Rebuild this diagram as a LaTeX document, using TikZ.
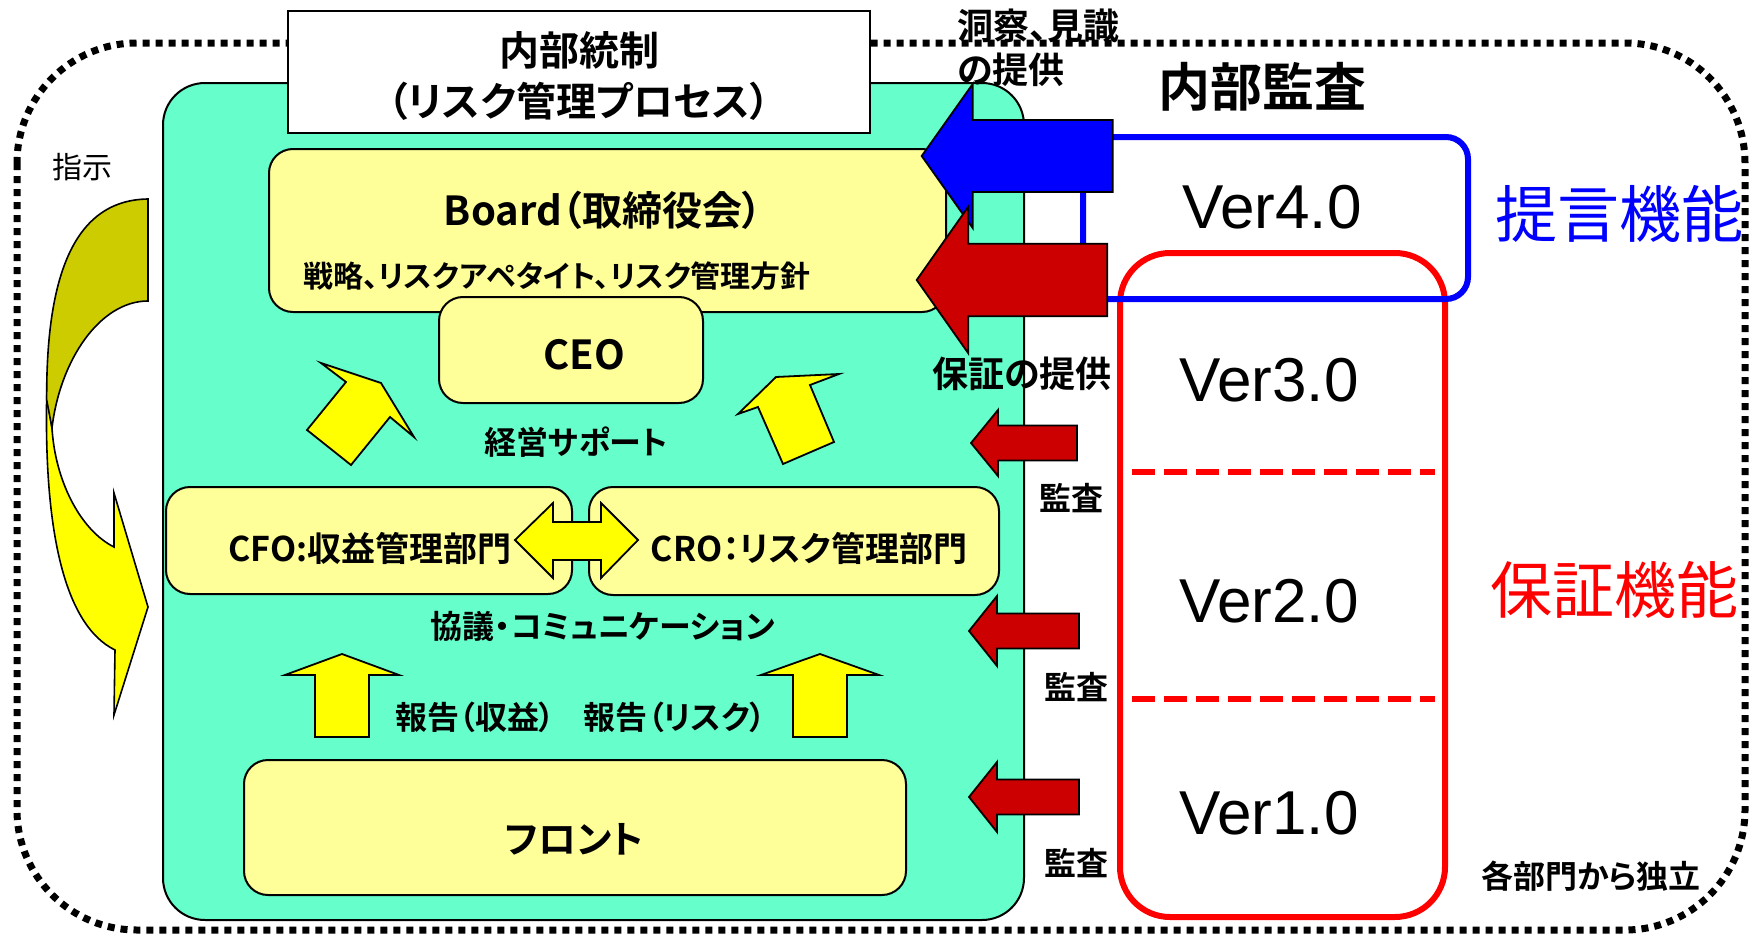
\documentclass[tikz,border=0pt]{standalone}
\usepackage{fontspec}
\setmainfont{Noto Sans CJK JP}[BoldFont={Noto Sans CJK JP Bold},RawFeature=+palt]
\newfontfamily\verfont{Liberation Sans}
\usetikzlibrary{calc}

\definecolor{mintbg}{HTML}{66FFCC}
\definecolor{paleyel}{HTML}{FFFF99}
\definecolor{arwyel}{HTML}{FFFF00}
\definecolor{olivebk}{HTML}{CCCC00}
\definecolor{auditred}{HTML}{CC0000}
\definecolor{frmred}{HTML}{FF0000}
\definecolor{frmblue}{HTML}{0000FF}

\tikzset{
  box/.style={draw=black, line width=1pt, fill=paleyel, rounded corners=12pt},
  yelarrow/.style={draw=black, line width=0.9pt, fill=arwyel, line join=miter},
  redarrow/.style={draw=black, line width=0.9pt, fill=auditred},
  lbl/.style={inner sep=0pt, font=\bfseries\fontsize{#1pt}{#1pt}\selectfont},
  ver/.style={inner sep=0pt, font=\verfont\fontsize{31pt}{31pt}\selectfont}
}

% left pointing block arrow: tip x, head x, tail x, mid y, shaft half, head half
\newcommand{\leftblock}[7][]{%
  \draw[#1] (#2,#5) -- (#3,#5-#7) -- (#3,#5-#6) -- (#4,#5-#6)
    -- (#4,#5+#6) -- (#3,#5+#6) -- (#3,#5+#7) -- cycle;}
% up pointing block arrow: mid x, tip y, head y, tail y, shaft half, head half
\newcommand{\upblock}[6]{%
  \draw[yelarrow] (#1,#2) -- (#1+#6,#3) -- (#1+#5,#3) -- (#1+#5,#4)
    -- (#1-#5,#4) -- (#1-#5,#3) -- (#1-#6,#3) -- cycle;}

\begin{document}
\begin{tikzpicture}[x=0.5pt,y=-0.5pt]
\useasboundingbox (0,0) rectangle (1758,937);

% outer dotted frame
\draw[line width=3.5pt, dash pattern=on 3.5pt off 3pt, rounded corners=60pt]
  (17,43) rectangle (1745,930);

% internal control area
\draw[fill=mintbg, line width=1pt, rounded corners=21pt] (163,83) rectangle (1024,920);
\draw[fill=white, line width=1pt] (288,11) rectangle (870,133);
\node[lbl=20] (ttl1) at (579,50) {内部統制};
\node[lbl=20] (ttl2) at (579,101) {（リスク管理プロセス）};

\draw[box] (269,149) rectangle (946,312);
\draw[box] (439,297) rectangle (703,403);
\draw[box] (166,487) rectangle (572,594);
\draw[box] (589,487) rectangle (999,595);
\draw[box] (244,760) rectangle (906,895);

\node[lbl=20] (board) at (603,210) {Board（取締役会）};
\node[lbl=15] (policy) at (557,276) {戦略、リスクアペタイト、リスク管理方針};
\node[lbl=20] (ceo) at (584,355) {CEO};
\node[lbl=17] (cfo) at (370,548) {CFO:収益管理部門};
\node[lbl=17] (cro) at (809,548) {CRO：リスク管理部門};
\node[lbl=19] (front) at (574,839) {フロント};

% support arrows
\draw[yelarrow] (321,363) -- (381,383) -- (414,437) -- (390,417) -- (351,465)
  -- (307,430) -- (346,382) -- cycle;
\draw[yelarrow] (776,377) -- (839,374) -- (810,385) -- (834,442) -- (783,464)
  -- (758,407) -- (738,414) -- cycle;
\node[lbl=16] (support) at (576,442) {経営サポート};

\draw[yelarrow] (515,540) -- (553,503) -- (553,522) -- (601,522) -- (601,503)
  -- (638,540) -- (601,578) -- (601,560) -- (553,560) -- (553,578) -- cycle;
\node[lbl=16] (talk) at (603,626) {協議・コミュニケーション};

\upblock{342}{654}{675}{737}{27}{57}
\upblock{820}{654}{675}{737}{27}{59}
\node[lbl=16] (rep1) at (475,717) {報告（収益）};
\node[lbl=16] (rep2) at (675,717) {報告（リスク）};

% instruction arrow
\draw[draw=black, line width=0.8pt, fill=arwyel]
  (46.7,395) .. controls (44,530) and (64,625) .. (115,650) -- (114,715)
  -- (148,607) -- (114,493) -- (114,547) .. controls (80,530) and (55,480) .. (52,428) -- cycle;
\draw[draw=black, line width=0.8pt, fill=olivebk]
  (148,199) .. controls (72,200) and (46,280) .. (46.7,400) -- (52,428)
  .. controls (60,360) and (100,301) .. (148,301) -- cycle;
\node[inner sep=0pt, font=\fontsize{15pt}{15pt}\selectfont] (order) at (83,167) {指示};

% internal audit
\draw[frmred, line width=3pt, rounded corners=25pt] (1120,253) rectangle (1445,917);
\draw[frmred, line width=3.25pt, dash pattern=on 11.5pt off 4.5pt] (1132,472) -- (1435,472);
\draw[frmred, line width=3.25pt, dash pattern=on 11.5pt off 4.5pt] (1132,699) -- (1435,699);
\draw[frmblue, line width=3pt, rounded corners=11pt] (1083,137) rectangle (1468,299);

\leftblock[draw=black, line width=0.9pt, fill=frmblue]{921.7}{972.7}{1112.7}{156}{36}{72}
\leftblock[redarrow]{916.7}{968.3}{1107.3}{280}{36.3}{73.3}
\leftblock[redarrow]{971}{998}{1077}{443}{17.5}{33}
\leftblock[redarrow]{969}{997}{1079}{631}{17.5}{35}
\leftblock[redarrow]{969}{997}{1079}{797}{17.5}{35}

\node[lbl=26] (audit) at (1262,87) {内部監査};
\node[lbl=18, anchor=west] (insight) at (957,26) {洞察、見識};
\node[lbl=18, anchor=west] (insight2) at (957,70) {の提供};
\node[lbl=18] (assure) at (1022,374) {保証の提供};
\node[lbl=16] (aud1) at (1071,498) {監査};
\node[lbl=16] (aud2) at (1076,687) {監査};
\node[lbl=16] (aud3) at (1076,863) {監査};

\node[ver] (v4) at (1272,207) {Ver4.0};
\node[ver] (v3) at (1269,380) {Ver3.0};
\node[ver] (v2) at (1269,601) {Ver2.0};
\node[ver] (v1) at (1269,813) {Ver1.0};

\node[inner sep=0pt, text=frmblue, font=\fontsize{31pt}{31pt}\selectfont] (advice) at (1619,214) {提言機能};
\node[inner sep=0pt, text=frmred, font=\fontsize{31pt}{31pt}\selectfont] (assfn) at (1614,590) {保証機能};
\node[lbl=16] (indep) at (1591,876) {各部門から独立};

\end{tikzpicture}
\end{document}
